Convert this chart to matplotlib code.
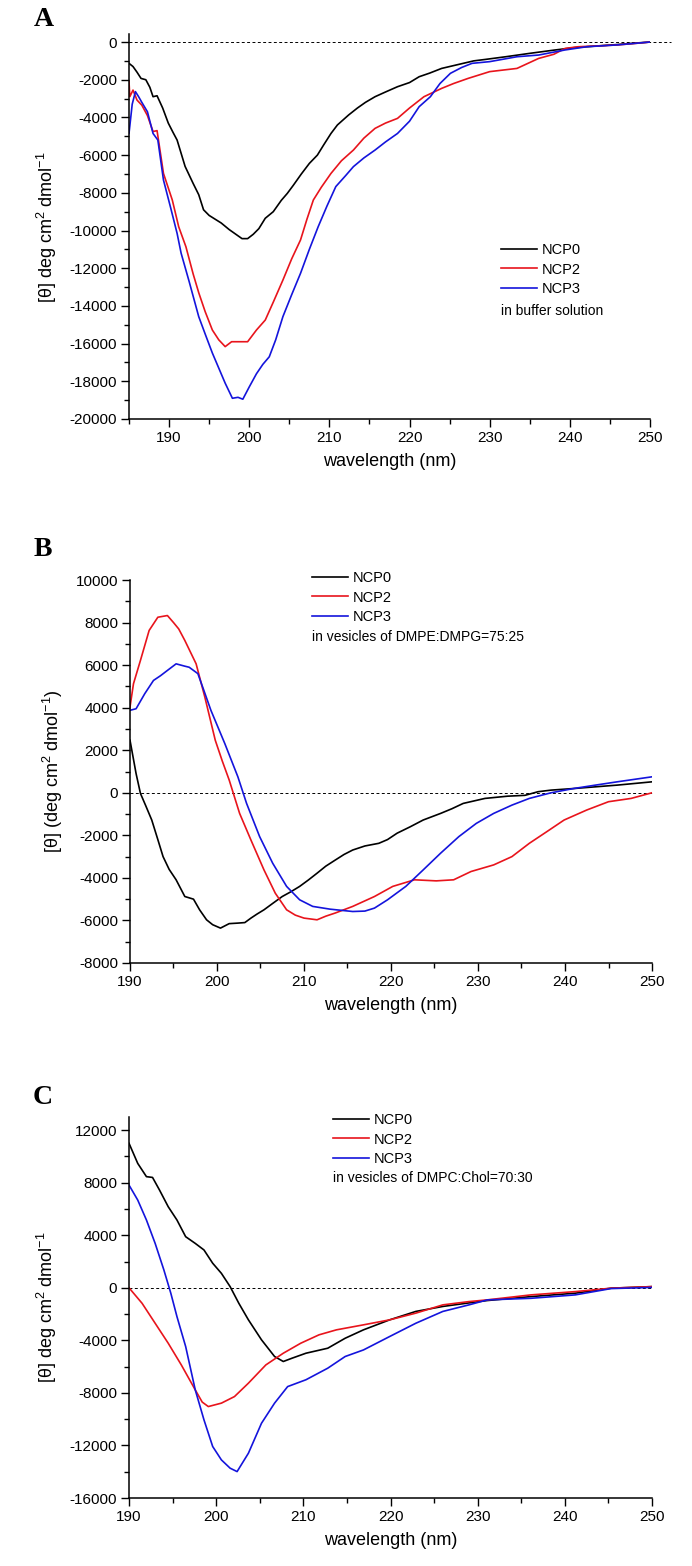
import numpy as np
import matplotlib
matplotlib.use('Agg')
from matplotlib import pyplot as plt
from matplotlib.ticker import MultipleLocator

matplotlib.rcParams['font.family'] = ['Liberation Sans', 'DejaVu Sans']
matplotlib.rcParams['font.size'] = 10
matplotlib.rcParams['axes.unicode_minus'] = False
matplotlib.rcParams['mathtext.fontset'] = 'custom'
matplotlib.rcParams['mathtext.rm'] = 'Liberation Sans'
matplotlib.rcParams['mathtext.it'] = 'Liberation Sans'

# ---- panel A: in buffer solution ----
a_ncp0_x = [185, 185.5, 186, 186.5, 187.1, 187.6, 188, 188.5, 189.2, 189.9, 190.5, 191, 192, 193, 193.7,
            194.3, 195, 196.5, 197.5, 198.5, 199.1, 199.8, 200.5, 201.2, 202, 203, 204, 204.75, 205.5,
            206.5, 207.5, 208.5, 209.3, 210.2, 211, 212.4, 213.5, 214.5, 215.7, 217, 218.5, 220,
            221.2, 222.5, 224, 226, 228, 229.5, 232, 235, 238, 240.5, 243, 246, 248, 250]
a_ncp0_y = [-1130, -1300, -1600, -1930, -2000, -2400, -2900, -2850, -3500, -4300, -4800, -5200, -6600,
            -7500, -8100, -8900, -9200, -9600, -9950, -10250, -10430, -10430, -10200, -9900, -9350,
            -9000, -8400, -8030, -7600, -7000, -6440, -6000, -5450, -4850, -4400, -3870, -3500, -3200,
            -2900, -2650, -2370, -2150, -1840, -1650, -1400, -1200, -1000, -920, -780, -600, -430,
            -300, -220, -130, -60, 0]
a_ncp2_x = [185, 185.1, 185.5, 186, 186.6, 187.3, 188, 188.5, 189.3, 190.4, 191.2, 192.1, 193, 193.7,
            194.5, 195.4, 196.2, 197, 197.8, 198.7, 199.8, 200.9, 202, 203, 204.2, 205.3, 206.4, 207.2,
            208, 209, 210.2, 211.5, 213, 214.3, 215.7, 217, 218.5, 220, 221.8, 224, 225.5, 227.3, 230,
            233.4, 236.1, 238, 239.4, 241, 243.3, 246, 248, 250]
a_ncp2_y = [-2100, -2900, -2550, -3080, -3350, -3900, -4750, -4700, -6970, -8380, -9800, -10860, -12300,
            -13300, -14300, -15280, -15800, -16160, -15900, -15900, -15900, -15280, -14750, -13800,
            -12630, -11500, -10500, -9400, -8380, -7700, -6970, -6300, -5730, -5100, -4580, -4300,
            -4050, -3500, -2900, -2460, -2200, -1930, -1570, -1400, -870, -650, -340, -250, -210, -150,
            -80, 0]
a_ncp3_x = [185, 185.4, 185.8, 186.2, 186.6, 187.3, 188, 188.6, 189.3, 190.2, 191, 191.5, 192.5, 193.7,
            194.6, 195.4, 196.2, 197, 197.9, 198.6, 199.2, 200, 200.9, 201.7, 202.5, 203.3, 204.2,
            205.3, 206.4, 207.5, 208.6, 209.7, 210.8, 212, 213, 214.3, 215.7, 217, 218.5, 220, 221.2,
            222.6, 223.8, 225.1, 226.5, 227.8, 230, 233.4, 236.1, 239.4, 242.1, 246, 250]
a_ncp3_y = [-4850, -3300, -2630, -2900, -3200, -3700, -4850, -5200, -7320, -8800, -10150, -11200,
            -12700, -14570, -15600, -16500, -17300, -18100, -18900, -18850, -18950, -18300, -17600,
            -17100, -16700, -15800, -14570, -13400, -12270, -11000, -9800, -8700, -7670, -7100, -6610,
            -6150, -5730, -5300, -4850, -4200, -3430, -2900, -2200, -1660, -1350, -1130, -1040, -780,
            -690, -420, -250, -150, 0]

# ---- panel B: DMPE:DMPG vesicles ----
b_ncp0_x = [190, 190.7, 191.2, 191.8, 192.5, 193.2, 193.8, 194.5, 195.3, 196.3, 197.3, 198, 198.8, 199.5,
            200.4, 201.4, 202.4, 203.2, 203.9, 204.6, 205.4, 206.4, 207.5, 208.5, 209.5, 210.5, 211.5,
            212.5, 213.6, 214.6, 215.6, 217, 218.6, 219.6, 220.7, 222.2, 223.7, 225.7, 227, 228.3,
            230.8, 233.4, 235.4, 236.9, 238.4, 241, 243.5, 246, 250]
b_ncp0_y = [2470, 900, -30, -600, -1280, -2200, -3000, -3600, -4090, -4875, -5000, -5500, -5970, -6200,
            -6360, -6150, -6125, -6100, -5890, -5700, -5500, -5200, -4875, -4650, -4400, -4100, -3780,
            -3450, -3160, -2900, -2690, -2500, -2375, -2200, -1900, -1600, -1280, -970, -750, -500,
            -265, -160, -120, 50, 125, 200, 280, 360, 515]
b_ncp2_x = [190, 190.4, 191.2, 192.2, 193.2, 194.3, 195, 195.6, 196.3, 197.6, 198.6, 199.8, 200.6, 201.4,
            202.6, 203.9, 205.4, 206.7, 208, 209, 210, 211.5, 212.5, 213.6, 215.6, 218.1, 220.2, 222.7,
            225.2, 227.2, 229.2, 231.8, 233.9, 235.9, 237.9, 239.9, 242.5, 245, 247.6, 250]
b_ncp2_y = [4030, 5125, 6220, 7630, 8250, 8330, 8000, 7700, 7160, 6060, 4500, 2470, 1500, 600, -970,
            -2220, -3625, -4720, -5500, -5750, -5890, -5970, -5800, -5650, -5340, -4875, -4400, -4090,
            -4140, -4090, -3700, -3390, -3000, -2375, -1830, -1280, -810, -420, -265, 0]
b_ncp3_x = [190, 190.7, 191.7, 192.7, 193.5, 194.3, 195.3, 196.3, 196.8, 197.8, 198.5, 199.3, 200.9,
            202.4, 203.4, 204.9, 206.4, 208, 209.5, 211, 213, 215.6, 217, 218.1, 219.6, 221.7, 223.7,
            225.7, 227.8, 229.8, 231.8, 233.9, 235.9, 238.4, 241, 243.5, 246, 250]
b_ncp3_y = [3875, 3950, 4660, 5280, 5500, 5750, 6060, 5950, 5900, 5600, 4800, 3875, 2310, 750, -500,
            -2060, -3310, -4400, -5030, -5340, -5470, -5580, -5560, -5420, -5030, -4400, -3625, -2840,
            -2060, -1440, -970, -580, -265, 0, 200, 360, 515, 750]

# ---- panel C: DMPC:Chol vesicles ----
c_ncp0_x = [190, 191, 192, 192.7, 193.5, 194.5, 195.5, 196.5, 197.6, 198.6, 199.6, 200.6, 201.6, 202.6,
            203.7, 205.2, 206.7, 207.7, 208.7, 210.3, 212.8, 214.8, 216.9, 219.9, 222.9, 226, 229,
            231.1, 236.1, 241.2, 245.3, 250]
c_ncp0_y = [11000, 9470, 8460, 8400, 7440, 6170, 5160, 3890, 3380, 2880, 1870, 1100, 90, -1180, -2440,
            -3960, -5230, -5610, -5360, -4980, -4600, -3840, -3200, -2440, -1800, -1420, -1150, -970,
            -670, -410, -30, 90]
c_ncp2_x = [190, 191.5, 193, 194.5, 196, 197.6, 198.4, 199.1, 200.6, 202.1, 203.7, 205.7, 207.7, 209.7,
            211.8, 213.8, 216.9, 219.9, 222.9, 226, 229, 231.1, 236.1, 241.2, 245.3, 250]
c_ncp2_y = [0, -1180, -2700, -4220, -5870, -7770, -8700, -9040, -8780, -8280, -7260, -5870, -4980,
            -4220, -3580, -3200, -2820, -2440, -1930, -1300, -1050, -920, -540, -290, -30, 90]
c_ncp3_x = [190, 191, 192, 193, 194, 194.8, 195.5, 196.5, 197.6, 198.6, 199.6, 200.6, 201.6, 202.4,
            203.7, 205.2, 206.7, 208.2, 210.3, 212.8, 214.8, 216.9, 219.9, 222.9, 226, 229, 231.1,
            236.1, 241.2, 245.3, 250]
c_ncp3_y = [7820, 6680, 5160, 3380, 1360, -420, -2190, -4470, -7770, -10050, -12080, -13100, -13730,
            -13990, -12590, -10310, -8780, -7520, -7000, -6120, -5230, -4730, -3710, -2700, -1800,
            -1300, -920, -800, -540, -60, 30]

labels = ['NCP0', 'NCP2', 'NCP3']
colors = ['black', '#e8141c', '#1414dc']

W, H = 692, 1566
fig = plt.figure(figsize=(W / 100, H / 100), dpi=100)


def px_axes(x0, x1, y_top, y_bot):
    return fig.add_axes([x0 / W, 1 - y_bot / H, (x1 - x0) / W, (y_bot - y_top) / H])


panels = [
    dict(box=(129, 650, 34.5, 419), xlim=(185, 250), ylim=(-20000, 400), ymin=1000,
         series=[(a_ncp0_x, a_ncp0_y), (a_ncp2_x, a_ncp2_y), (a_ncp3_x, a_ncp3_y)],
         ylabel='[θ] deg cm$^{2}$ dmol$^{-1}$', letter='A', letter_xy=(44, 19),
         leg=(501, 243), note='in buffer solution', note_xy=(501, 311), dash_end=1.04,
         yticks=np.arange(-20000, 1, 2000)),
    dict(box=(130, 652, 580, 963), xlim=(190, 250), ylim=(-8000, 10000), ymin=1000,
         series=[(b_ncp0_x, b_ncp0_y), (b_ncp2_x, b_ncp2_y), (b_ncp3_x, b_ncp3_y)],
         ylabel='[θ] (deg cm$^{2}$ dmol$^{-1}$)', letter='B', letter_xy=(43, 549),
         leg=(312, 571), note='in vesicles of DMPE:DMPG=75:25', note_xy=(312, 637), dash_end=1.0,
         yticks=np.arange(-8000, 10001, 2000)),
    dict(box=(129, 652, 1117, 1498), xlim=(190, 250), ylim=(-16000, 13000), ymin=2000,
         series=[(c_ncp0_x, c_ncp0_y), (c_ncp2_x, c_ncp2_y), (c_ncp3_x, c_ncp3_y)],
         ylabel='[θ] deg cm$^{2}$ dmol$^{-1}$', letter='C', letter_xy=(43, 1098),
         leg=(333, 1113), note='in vesicles of DMPC:Chol=70:30', note_xy=(333, 1178), dash_end=1.0,
         yticks=np.arange(-16000, 12001, 4000)),
]

for p in panels:
    ax = px_axes(*p['box'])
    for (xs, ys), lab, col in zip(p['series'], labels, colors):
        ax.plot(xs, ys, color=col, lw=1.2, label=lab)
    ax.axhline(0, xmin=0, xmax=p['dash_end'], color='black', lw=0.7, ls=(0, (3, 2.5)),
               clip_on=False, zorder=0)
    ax.set_xlim(*p['xlim'])
    ax.set_ylim(*p['ylim'])
    ax.set_xticks(np.arange(190, 251, 10))
    ax.xaxis.set_minor_locator(MultipleLocator(5))
    ax.set_yticks(p['yticks'])
    ax.yaxis.set_minor_locator(MultipleLocator(p['ymin']))
    for s in ('top', 'right'):
        ax.spines[s].set_visible(False)
    for s in ('left', 'bottom'):
        ax.spines[s].set_linewidth(1.1)
    ax.tick_params(which='major', direction='out', length=5.5, width=1.0, labelsize=11, pad=3)
    ax.tick_params(which='minor', direction='out', length=3.5, width=1.0)
    ax.set_xlabel('wavelength (nm)', fontsize=13, labelpad=6)
    ax.set_ylabel(p['ylabel'], fontsize=13, labelpad=8)
    lx, ly = p['leg']
    ax.legend(loc='upper left', bbox_to_anchor=(lx / W, 1 - ly / H), bbox_transform=fig.transFigure,
              frameon=False, fontsize=10.5, borderpad=0, borderaxespad=0, labelspacing=0.38,
              handlelength=2.45, handletextpad=0.35)
    nx, ny = p['note_xy']
    fig.text(nx / W, 1 - ny / H, p['note'], fontsize=10, va='center', ha='left')
    tx, ty = p['letter_xy']
    fig.text(tx / W, 1 - ty / H, p['letter'], fontsize=20, fontweight='bold',
             family='Liberation Serif', ha='center', va='center')

fig.savefig('out.png', dpi=100)
